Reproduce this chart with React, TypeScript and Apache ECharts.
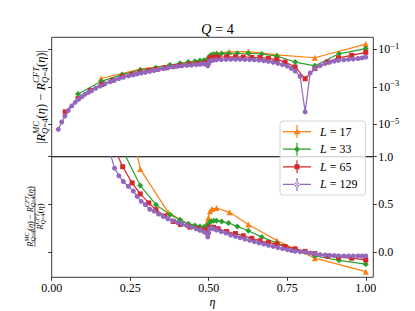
import React, { useEffect, useRef } from 'react';
import * as echarts from 'echarts';

const FONT = 'Liberation Serif';

// ---- data ----
const X_TICKS = [0, 0.25, 0.5, 0.75, 1.0];
const TOP_TICKS = [-5, -3, -1]; // log10 exponents
const BOTTOM_TICKS = [0, 0.5, 1.0];

// L = 17
const L17_eta = [0.157, 0.282, 0.371, 0.434, 0.485, 0.499, 0.504, 0.51, 0.525, 0.566, 0.626, 0.717, 0.838, 1.0];
const L17_log10Abs = [-2.56, -2.06, -1.86, -1.74, -1.65, -1.55, -1.33, -1.28, -1.2, -1.13, -1.12, -1.3, -1.45, -0.72];
const L17_rel = [2.8, 0.87, 0.417, 0.29, 0.263, 0.36, 0.43, 0.453, 0.463, 0.417, 0.29, 0.122, -0.063, -0.204];

// L = 33
const L33_eta = [0.084, 0.158, 0.224, 0.282, 0.332, 0.377, 0.409, 0.435, 0.456, 0.472, 0.485, 0.495, 0.502, 0.508, 0.516, 0.525, 0.541, 0.563, 0.591, 0.626, 0.669, 0.717, 0.775, 0.838, 0.915, 1.0];
const L33_log10Abs = [-3.39, -2.71, -2.35, -2.1, -1.98, -1.84, -1.75, -1.68, -1.64, -1.6, -1.58, -1.55, -1.38, -1.3, -1.27, -1.25, -1.23, -1.22, -1.21, -1.21, -1.25, -1.36, -1.68, -1.88, -1.24, -0.96];
const L33_rel = [3.0, 1.6, 1.08, 0.698, 0.498, 0.393, 0.34, 0.298, 0.28, 0.27, 0.263, 0.28, 0.31, 0.325, 0.33, 0.33, 0.322, 0.305, 0.27, 0.225, 0.158, 0.095, 0.03, -0.04, -0.085, -0.126];

// L = 65
const L65_eta = [0.043, 0.084, 0.123, 0.16, 0.195, 0.226, 0.256, 0.282, 0.309, 0.332, 0.36, 0.387, 0.41, 0.44, 0.465, 0.488, 0.497, 0.504, 0.515, 0.53, 0.557, 0.585, 0.61, 0.637, 0.663, 0.69, 0.717, 0.743, 0.775, 0.807, 0.838, 0.878, 0.913, 0.955, 1.0];
const L65_log10Abs = [-4.34, -3.63, -3.19, -2.87, -2.65, -2.45, -2.33, -2.22, -2.13, -2.06, -1.99, -1.92, -1.86, -1.79, -1.75, -1.72, -1.72, -1.45, -1.42, -1.41, -1.4, -1.4, -1.41, -1.43, -1.44, -1.48, -1.55, -1.68, -1.94, -2.57, -2.03, -1.68, -1.46, -1.32, -1.16];
const L65_rel = [6.0, 3.2, 2.1, 1.5, 1.12, 0.895, 0.726, 0.61, 0.516, 0.445, 0.38, 0.322, 0.29, 0.263, 0.248, 0.235, 0.225, 0.263, 0.26, 0.245, 0.217, 0.195, 0.172, 0.145, 0.119, 0.1, 0.084, 0.06, 0.035, 0.008, -0.015, -0.04, -0.052, -0.063, -0.081];

// L = 129
const L129_eta = [0.021, 0.032, 0.042, 0.053, 0.064, 0.075, 0.085, 0.096, 0.106, 0.117, 0.127, 0.14, 0.154, 0.17, 0.186, 0.2, 0.214, 0.228, 0.244, 0.26, 0.272, 0.285, 0.298, 0.312, 0.326, 0.34, 0.355, 0.37, 0.385, 0.4, 0.415, 0.43, 0.445, 0.46, 0.472, 0.484, 0.492, 0.497, 0.5, 0.503, 0.508, 0.515, 0.525, 0.54, 0.555, 0.57, 0.585, 0.6, 0.615, 0.63, 0.645, 0.66, 0.675, 0.69, 0.705, 0.72, 0.735, 0.75, 0.763, 0.775, 0.791, 0.807, 0.823, 0.838, 0.855, 0.87, 0.886, 0.9, 0.913, 0.93, 0.945, 0.96, 0.975, 0.988, 1.0];
const L129_log10Abs = [-5.27, -4.88, -4.56, -4.27, -4.02, -3.83, -3.67, -3.53, -3.4, -3.3, -3.21, -3.08, -2.96, -2.84, -2.73, -2.64, -2.56, -2.49, -2.42, -2.36, -2.31, -2.27, -2.23, -2.18, -2.13, -2.08, -2.03, -1.99, -1.94, -1.91, -1.88, -1.86, -1.84, -1.82, -1.8, -1.78, -1.8, -1.88, -1.75, -1.64, -1.6, -1.58, -1.56, -1.55, -1.54, -1.53, -1.53, -1.53, -1.54, -1.55, -1.56, -1.58, -1.61, -1.64, -1.69, -1.75, -1.82, -1.9, -2.01, -2.16, -2.44, -4.34, -2.26, -2.03, -1.87, -1.76, -1.68, -1.63, -1.59, -1.56, -1.54, -1.52, -1.49, -1.46, -1.42];
const L129_rel = [9.0, 7.0, 5.6, 4.6, 3.9, 3.3, 2.9, 2.55, 2.25, 2.0, 1.8, 1.6, 1.4, 1.2, 1.04, 0.88, 0.8, 0.74, 0.69, 0.64, 0.585, 0.533, 0.498, 0.45, 0.43, 0.4, 0.375, 0.35, 0.33, 0.31, 0.295, 0.28, 0.262, 0.245, 0.23, 0.215, 0.2, 0.16, 0.2, 0.245, 0.255, 0.245, 0.232, 0.215, 0.2, 0.18, 0.165, 0.152, 0.138, 0.124, 0.11, 0.097, 0.085, 0.072, 0.06, 0.048, 0.037, 0.027, 0.018, 0.01, 0.004, 0.0, -0.008, -0.018, -0.026, -0.03, -0.034, -0.036, -0.038, -0.039, -0.04, -0.04, -0.04, -0.04, -0.04];

const SERIES_NAMES = ['L = 17', 'L = 33', 'L = 65', 'L = 129'];
const COLORS = ['#ff7f0e', '#2ca02c', '#d62728', '#9467bd'];

const SERIES = [
  { name: SERIES_NAMES[0], color: COLORS[0], symbol: 'triangle', size: 6, eta: L17_eta, lg: L17_log10Abs, rel: L17_rel },
  { name: SERIES_NAMES[1], color: COLORS[1], symbol: 'diamond', size: 6, eta: L33_eta, lg: L33_log10Abs, rel: L33_rel },
  { name: SERIES_NAMES[2], color: COLORS[2], symbol: 'rect', size: 5, eta: L65_eta, lg: L65_log10Abs, rel: L65_rel },
  { name: SERIES_NAMES[3], color: COLORS[3], symbol: 'circle', size: 5, eta: L129_eta, lg: L129_log10Abs, rel: L129_rel },
];

const ICON_BASE = 'M0,5.9h28v1.2H0Z M13.4,0h1.2v13h-1.2Z ';
const ICON_MARK: Record<string, string> = {
  triangle: 'M14,3.2L17.4,9.2L10.6,9.2Z',
  diamond: 'M14,3.2L17,6.5L14,9.8L11,6.5Z',
  rect: 'M11.5,4h5v5h-5Z',
  circle: 'M11.5,6.5a2.5,2.5 0 1,0 5,0a2.5,2.5 0 1,0 -5,0Z',
};

// ---- math label helpers ----
type Tok = { t: string; s: number; dy?: number; it?: boolean };
type Item = Tok | { stack: Tok[][] };

let measureCtx: CanvasRenderingContext2D | null = null;
function tokW(tok: Tok): number {
  if (!measureCtx) measureCtx = document.createElement('canvas').getContext('2d');
  const ctx = measureCtx!;
  ctx.font = `${tok.it ? 'italic ' : ''}${tok.s}px "${FONT}"`;
  return ctx.measureText(tok.t).width;
}
function mathRow(items: Item[], y0: number) {
  const els: any[] = [];
  let x = 0;
  const put = (tok: Tok, x0: number) => {
    els.push({
      type: 'text', x: x0, y: y0 + (tok.dy || 0), silent: true,
      style: { text: tok.t, fontSize: tok.s, fontFamily: FONT, fontStyle: tok.it ? 'italic' : 'normal', fill: '#000', align: 'left', verticalAlign: 'middle' },
    });
    return tokW(tok);
  };
  for (const it of items) {
    if ('stack' in it) {
      let m = 0;
      for (const row of it.stack) {
        let rx = x;
        for (const t of row) rx += put(t, rx);
        m = Math.max(m, rx - x);
      }
      x += m;
    } else {
      x += put(it, x);
    }
  }
  els.forEach((e) => (e.x -= x / 2));
  return { els, width: x };
}
function scriptR(sup: string, S: number, s: number, up: number, dn: number): Item[] {
  return [
    { t: 'R', s: S, it: true },
    { stack: [[{ t: sup, s, dy: -up, it: true }], [{ t: 'Q', s, dy: dn, it: true }, { t: '=4', s, dy: dn }]] },
    { t: '(', s: S }, { t: 'η', s: S, it: true }, { t: ')', s: S },
  ];
}

function buildOption() {
  const S = 12.5, s = 8.7;
  const topItems: Item[] = [
    { t: '|', s: S },
    ...scriptR('MC', S, s, 4.6, 3.6),
    { t: ' − ', s: S },
    ...scriptR('CFT', S, s, 4.6, 3.6),
    { t: '|', s: S },
  ];
  const topLabel = mathRow(topItems, 0);

  const F = 8.4, f = 6;
  const num = mathRow([...scriptR('MC', F, f, 3.2, 2.4), { t: ' − ', s: F }, ...scriptR('CFT', F, f, 3.2, 2.4)], -4.3);
  const den = mathRow(scriptR('CFT', F, f, 3.2, 2.4), 5.6);

  const tickLine = { color: '#000', width: 0.8 };
  const labelBase = { fontFamily: FONT, fontSize: 12, color: '#000' };

  const series: any[] = [];
  SERIES.forEach((sr, i) => {
    series.push({
      type: 'line', name: sr.name, xAxisIndex: 0, yAxisIndex: 0,
      data: sr.eta.map((e, k) => [e, sr.lg[k]]),
      symbol: sr.symbol, symbolSize: sr.size,
      lineStyle: { width: 1.2, color: sr.color }, itemStyle: { color: sr.color, borderWidth: 0 },
      emphasis: { disabled: true }, silent: true, z: 2 + i,
    });
  });
  SERIES.forEach((sr, i) => {
    series.push({
      type: 'line', name: sr.name, xAxisIndex: 1, yAxisIndex: 2,
      data: sr.eta.map((e, k) => [e, sr.rel[k]]),
      symbol: sr.symbol, symbolSize: sr.size,
      lineStyle: { width: 1.2, color: sr.color }, itemStyle: { color: sr.color, borderWidth: 0 },
      emphasis: { disabled: true }, silent: true, z: 2 + i,
    });
  });

  const yCommon = (gridIndex: number, position: string, min: number, max: number, ticks: number[], labels: any) => ({
    gridIndex, type: 'value', position, min, max,
    axisLine: { show: false, onZero: false },
    axisTick: { show: true, length: 3.5, lineStyle: tickLine, customValues: ticks },
    axisLabel: labels ? { customValues: ticks, margin: 5, ...labelBase, ...labels } : { show: false },
    splitLine: { show: false },
  });

  return {
    animation: false,
    backgroundColor: '#fff',
    textStyle: { fontFamily: FONT },
    title: {
      text: '{i|Q} = 4', left: 212.5, top: 17, textAlign: 'center',
      textStyle: { fontFamily: FONT, fontSize: 14.4, fontWeight: 'normal', color: '#000', rich: { i: { fontFamily: FONT, fontSize: 14.4, fontStyle: 'italic', color: '#000' } } },
    },
    grid: [
      { left: 51.7, right: 41.7, top: 37.3, height: 119.4, show: true, borderColor: '#262626', borderWidth: 0.9, backgroundColor: 'transparent' },
      { left: 51.7, right: 41.7, top: 156.7, height: 120.6, show: true, borderColor: '#262626', borderWidth: 0.9, backgroundColor: 'transparent' },
    ],
    xAxis: [
      { gridIndex: 0, type: 'value', min: 0, max: 1.024, axisLine: { show: false, onZero: false }, axisTick: { show: false }, axisLabel: { show: false }, splitLine: { show: false } },
      {
        gridIndex: 1, type: 'value', min: 0, max: 1.024,
        axisLine: { show: false, onZero: false },
        axisTick: { show: true, length: 3.5, lineStyle: tickLine, customValues: X_TICKS },
        axisLabel: { customValues: X_TICKS, formatter: (v: number) => v.toFixed(2), margin: 5, ...labelBase },
        splitLine: { show: false },
        name: 'η', nameLocation: 'middle', nameGap: 19,
        nameTextStyle: { fontFamily: FONT, fontSize: 12, fontStyle: 'italic', color: '#000' },
      },
    ],
    yAxis: [
      yCommon(0, 'right', -6.73, -0.36, TOP_TICKS, {
        formatter: (v: number) => `10{sup|−${Math.abs(v)}}`,
        lineHeight: 16,
        rich: { sup: { fontFamily: FONT, fontSize: 8.5, lineHeight: 9, verticalAlign: 'top', color: '#000' } },
      }),
      yCommon(0, 'left', -6.73, -0.36, TOP_TICKS, null),
      yCommon(1, 'right', -0.263, 1.0, BOTTOM_TICKS, { formatter: (v: number) => v.toFixed(1) }),
      yCommon(1, 'left', -0.263, 1.0, BOTTOM_TICKS, null),
    ],
    legend: {
      orient: 'vertical', left: 280, top: 121,
      itemWidth: 28, itemHeight: 13, itemGap: 4.6,
      padding: [4.1, 8, 4.1, 3],
      backgroundColor: 'rgba(255,255,255,0.8)', borderColor: '#cccccc', borderWidth: 0.8, borderRadius: 3,
      selectedMode: false,
      itemStyle: { borderWidth: 0 },
      data: SERIES.map((sr) => ({ name: sr.name, icon: 'path://' + ICON_BASE + ICON_MARK[sr.symbol] })),
      formatter: (n: string) => `{i|L} = ${n.slice(4)}`,
      textStyle: { fontFamily: FONT, fontSize: 12, color: '#000', lineHeight: 13, padding: [0, 0, 0, 4], rich: { i: { fontFamily: FONT, fontSize: 12, fontStyle: 'italic', lineHeight: 13, color: '#000' } } },
    },
    graphic: [
      { type: 'group', x: 41, y: 97, rotation: Math.PI / 2, silent: true, children: topLabel.els },
      {
        type: 'group', x: 34.5, y: 216.5, rotation: Math.PI / 2, silent: true,
        children: [
          ...num.els,
          { type: 'line', shape: { x1: -num.width / 2, y1: 0.4, x2: num.width / 2, y2: 0.4 }, style: { stroke: '#000', lineWidth: 0.6 } },
          ...den.els,
        ],
      },
    ],
    series,
  };
}

export default function App() {
  const ref = useRef<HTMLDivElement>(null);
  useEffect(() => {
    const chart = echarts.init(ref.current!, null, { renderer: 'svg' });
    chart.setOption(buildOption() as any);
    return () => chart.dispose();
  }, []);
  return <div ref={ref} style={{ position: 'fixed', left: 0, top: 0, width: 415, height: 311, background: '#fff' }} />;
}
